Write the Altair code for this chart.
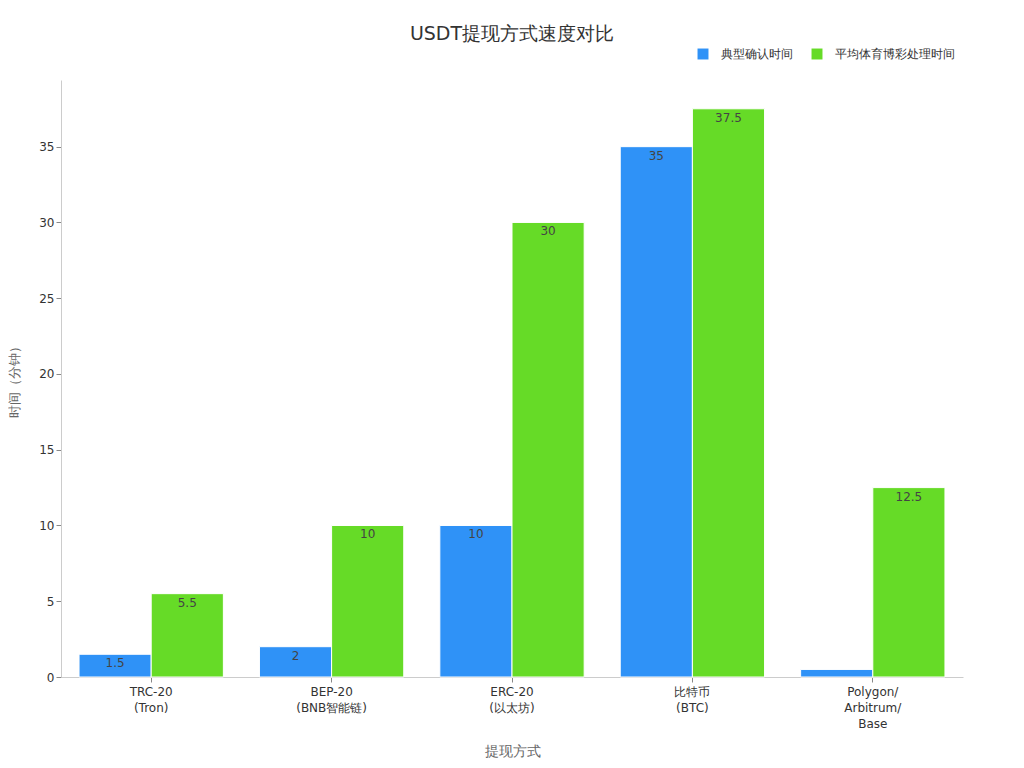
import altair as alt
import pandas as pd

categories = ["TRC-20\n(Tron)", "BEP-20\n(BNB智能链)", "ERC-20\n(以太坊)", "比特币\n(BTC)", "Polygon/\nArbitrum/\nBase"]
series = ["典型确认时间", "平均体育博彩处理时间"]
typical = [1.5, 2, 10, 35, 0.5]
betting = [5.5, 10, 30, 37.5, 12.5]
colors = ["#2F92F7", "#66DB27"]

rows = []
for c, a, b in zip(categories, typical, betting):
    rows.append({"cat": c, "series": series[0], "value": a})
    rows.append({"cat": c, "series": series[1], "value": b})
df = pd.DataFrame(rows)

FONT = "DejaVu Sans"

x = alt.X("cat:N", sort=categories, title="提现方式",
          scale=alt.Scale(paddingInner=0.2, paddingOuter=0.1),
          axis=alt.Axis(labelAngle=0, labelExpr="split(datum.label, '\\n')",
                        labelFontSize=12, labelColor="#333", titleFontSize=14,
                        titleColor="#666", titleFontWeight="normal", titlePadding=15,
                        domainColor="#ccc", tickColor="#888", labelPadding=4,
                        labelLineHeight=16))
xoff = alt.XOffset("series:N", sort=series)
y = alt.Y("value:Q", title="时间（分钟）",
          scale=alt.Scale(domain=[0, 39.4], nice=False),
          axis=alt.Axis(grid=False, values=[0, 5, 10, 15, 20, 25, 30, 35],
                        labelFontSize=12, labelColor="#333", titleFontSize=13,
                        titleColor="#666", titleFontWeight="normal",
                        domainColor="#ccc", tickColor="#888", titlePadding=17))

bars = alt.Chart(df).mark_bar(stroke="white", strokeWidth=1).encode(
    x=x, xOffset=xoff, y=y,
    color=alt.Color("series:N", sort=series,
                    scale=alt.Scale(domain=series, range=colors),
                    legend=alt.Legend(title=None, orient="none", direction="horizontal",
                                      legendX=636, legendY=-32, symbolType="square",
                                      symbolSize=120, labelFontSize=12, labelColor="#333",
                                      labelOffset=12, columnPadding=18, symbolStrokeWidth=0))
)

labels = alt.Chart(df).transform_filter("datum.value >= 1").mark_text(
    baseline="top", dy=4, fontSize=12, color="#444", font=FONT).encode(
    x=x, xOffset=xoff, y=y, text=alt.Text("value:Q")
)

chart = (bars + labels).properties(
    width=902, height=597,
    padding={"left": 0, "top": 17, "right": 5, "bottom": 0},
    title=alt.TitleParams("USDT提现方式速度对比", fontSize=19, fontWeight="normal",
                          color="#333", anchor="middle", offset=4)
).configure(font=FONT).configure_view(stroke=None)

chart.save("out.html", embed_options={"renderer": "svg", "actions": False})
